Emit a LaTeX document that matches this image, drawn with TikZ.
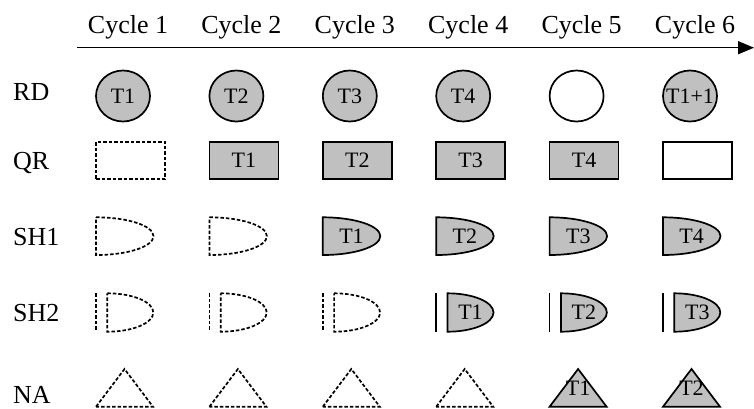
\documentclass[tikz,border=0pt]{standalone}
\usepackage{fontspec}
\setmainfont{Liberation Serif}
\usepackage{xcolor}
\usepackage{tikz}
\usetikzlibrary{
    positioning,
    arrows.meta,
    shapes.geometric,
}
\definecolor{slot}{RGB}{192,192,192}
\tikzset{
    % Outline styles
    outline/.style={draw=black, line width=1.7pt},
    busy/.style={outline, fill=slot},
    free/.style={outline, fill=white},
    idle/.style={outline, dash pattern=on 3.5pt off 2pt},
    % Node styles
    rd slot/.style={ellipse, minimum width=54pt, minimum height=51pt, inner sep=0pt},
    qr slot/.style={rectangle, minimum width=69pt, minimum height=37.6pt, inner sep=0pt,
                    font=\fontsize{22}{26}\selectfont},
    token/.style={inner sep=0pt, font=\fontsize{22}{26}\selectfont},
    % Text styles
    row label/.style={anchor=base west, inner sep=0pt, font=\fontsize{26}{30}\selectfont},
    cycle label/.style={anchor=base, inner sep=0pt, font=\fontsize{26}{30}\selectfont},
    % Arrow styles
    axis/.style={draw=black, line width=1.4pt, -{Triangle[length=16pt, width=13pt]}},
}

\begin{document}
\begin{tikzpicture}[x=1pt, y=-1pt]
    \useasboundingbox (0,0) rectangle (754,408);

    % Time axis
    \coordinate (t0) at (77,47.7);
    \coordinate (t1) at (754,47.7);
    \draw[axis] (t0) -- (t1);

    % Labels
    \foreach \r/\y in {RD/100.6, QR/169.5, SH1/245, SH2/321.5, NA/403.5}
        \node[row label] (lbl-\r) at (13,\y) {\r};
    \foreach \i in {1,...,6} {
        \pgfmathsetmacro{\L}{96+113.4*(\i-1)}
        \node[cycle label] (cyc-\i) at (\L+32,33.3) {Cycle \i};
    }

    % RD
    \foreach \i/\s/\t in {1/busy/T1, 2/busy/T2, 3/busy/T3, 4/busy/T4, 5/free/{}, 6/busy/T1+1} {
        \pgfmathsetmacro{\L}{96+113.4*(\i-1)}
        \node[rd slot, \s] (rd-\i) at (\L+27,96) {};
        \node[token] (rd-\i-t) at (rd-\i) {\t};
    }

    % QR
    \foreach \i/\s/\t in {1/idle/{}, 2/busy/T1, 3/busy/T2, 4/busy/T3, 5/busy/T4, 6/free/{}} {
        \pgfmathsetmacro{\L}{96+113.4*(\i-1)}
        \node[qr slot, \s] (qr-\i) at (\L+34.5,160.5) {\t};
    }

    % SH1
    \foreach \i/\s/\t in {1/idle/{}, 2/idle/{}, 3/busy/T1, 4/busy/T2, 5/busy/T3, 6/busy/T4} {
        \pgfmathsetmacro{\L}{96+113.4*(\i-1)}
        \draw[\s] (\L,217.3) arc[start angle=-90, end angle=90, x radius=57.5, y radius=18.85] -- cycle;
        \node[token] (sh1-\i) at (\L+28.7,236.2) {\t};
    }

    % SH2
    \foreach \i/\s/\t in {1/idle/{}, 2/idle/{}, 3/idle/{}, 4/busy/T1, 5/busy/T2, 6/busy/T3} {
        \pgfmathsetmacro{\L}{96+113.4*(\i-1)}
        \draw[\s, fill=none] (\L,293.3) -- (\L,331.7);
        \draw[\s] (\L+11.3,293.3) arc[start angle=-90, end angle=90, x radius=46, y radius=19.2] -- cycle;
        \node[token] (sh2-\i) at (\L+34.3,312.5) {\t};
    }

    % NA
    \foreach \i/\s/\t in {1/idle/{}, 2/idle/{}, 3/idle/{}, 4/idle/{}, 5/busy/T1, 6/busy/T2} {
        \pgfmathsetmacro{\L}{96+113.4*(\i-1)}
        \draw[\s] (\L,406.7) -- (\L+28.5,369) -- (\L+57,406.7) -- cycle;
        \node[token] (na-\i) at (\L+28.5,388) {\t};
    }
\end{tikzpicture}
\end{document}
